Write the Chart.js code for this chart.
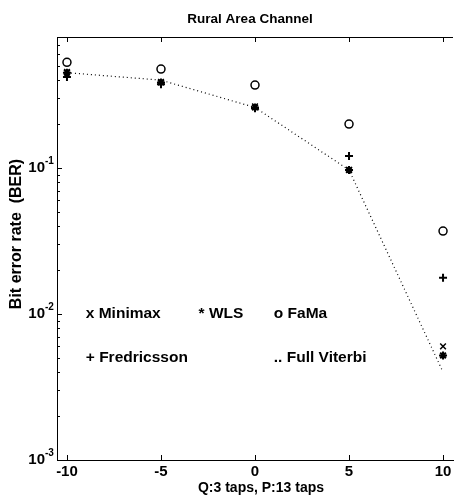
<!DOCTYPE html>
<html>
<head>
<meta charset="utf-8">
<script src="https://cdn.jsdelivr.net/npm/chart.js@4"></script>
<style>
  html, body { margin: 0; padding: 0; background: #fff; }
  canvas { display: block; }
</style>
</head>
<body>
<canvas id="berChart" width="459" height="498"></canvas>
<script>
  // SNR points and BER per equalizer
  const snr = [-10, -5, 0, 5, 10];
  const minimax = [0.455, 0.39, 0.265, 0.097, 0.006];
  const wls = [0.45, 0.385, 0.26, 0.097, 0.0052];
  const fama = [0.53, 0.476, 0.37, 0.2, 0.037];
  const fredricsson = [0.42, 0.375, 0.257, 0.121, 0.0177];
  const fullViterbi = [0.45, 0.40, 0.26, 0.097, 0.004];

  const xTicks = [-10, -5, 0, 5, 10];
  const yDecades = [0.001, 0.01, 0.1];
  const yDecadeExp = ['-3', '-2', '-1'];

  const legendLabels = ['x Minimax', '* WLS', 'o FaMa', '+ Fredricsson', '.. Full Viterbi'];
  const legendX = [-9, -3, 1, -9, 1];
  const legendY = [0.01, 0.01, 0.01, 0.005, 0.005];

  const FONT = "'Liberation Sans', Arial, sans-serif";

  function pts(values) {
    return snr.map((x, i) => ({ x: x, y: values[i] }));
  }

  function markerSet(label, values, style, width) {
    return {
      label: label,
      data: pts(values),
      showLine: false,
      pointStyle: style,
      pointRadius: 4,
      pointBorderColor: '#000',
      pointBackgroundColor: 'rgba(0,0,0,0)',
      pointBorderWidth: width
    };
  }

  const decorPlugin = {
    id: 'decor',
    afterDraw(chart) {
      const { ctx, chartArea: a, scales: { x, y } } = chart;
      ctx.save();
      ctx.strokeStyle = '#000';
      ctx.lineWidth = 1;
      const line = (x1, y1, x2, y2) => {
        ctx.beginPath(); ctx.moveTo(x1, y1); ctx.lineTo(x2, y2); ctx.stroke();
      };

      // top frame
      line(a.left, a.top + 0.5, a.right, a.top + 0.5);

      // inward x ticks, bottom and top
      xTicks.forEach(v => {
        const px = Math.round(x.getPixelForValue(v)) + 0.5;
        line(px, a.bottom, px, a.bottom - 5);
        line(px, a.top, px, a.top + 5);
      });

      // inward y ticks, major + minor
      yDecades.forEach(d => {
        for (let k = 1; k <= 9; k++) {
          const v = k * d;
          if (v > y.max) break;
          const py = Math.round(y.getPixelForValue(v)) + 0.5;
          line(a.left, py, a.left + (k === 1 ? 5 : 3), py);
        }
      });

      ctx.fillStyle = '#000';

      // y tick labels 10^n
      yDecades.forEach((d, i) => {
        const py = y.getPixelForValue(d);
        ctx.font = 'bold 15px ' + FONT;
        ctx.textAlign = 'right';
        ctx.textBaseline = 'middle';
        ctx.fillText('10', 45, py);
        ctx.font = 'bold 10px ' + FONT;
        ctx.textAlign = 'left';
        ctx.fillText(yDecadeExp[i], 45, py - 7);
      });

      // legend as text inside axes
      ctx.font = 'bold 15.5px ' + FONT;
      ctx.textAlign = 'left';
      ctx.textBaseline = 'middle';
      legendLabels.forEach((t, i) => {
        ctx.fillText(t, x.getPixelForValue(legendX[i]), y.getPixelForValue(legendY[i]));
      });

      // title and axis labels
      ctx.textAlign = 'center';
      ctx.font = 'bold 13.5px ' + FONT;
      ctx.fillText('Rural Area Channel', 250, 19);
      ctx.font = 'bold 14px ' + FONT;
      ctx.fillText('Q:3 taps, P:13 taps', 261, 488);
      ctx.save();
      ctx.translate(17, 234);
      ctx.rotate(-Math.PI / 2);
      ctx.font = 'bold 16px ' + FONT;
      ctx.fillText('Bit error rate  (BER)', 0, 0);
      ctx.restore();

      ctx.restore();
    }
  };

  new Chart(document.getElementById('berChart'), {
    type: 'line',
    data: {
      datasets: [
        {
          label: 'Full Viterbi',
          data: pts(fullViterbi),
          borderColor: '#000',
          borderWidth: 1.2,
          borderDash: [1, 3],
          pointRadius: 0,
          fill: false,
          tension: 0
        },
        markerSet('FaMa', fama, 'circle', 1.5),
        markerSet('Fredricsson', fredricsson, 'cross', 2),
        markerSet('Minimax', minimax, 'crossRot', 1.5),
        markerSet('WLS', wls, 'star', 2)
      ]
    },
    options: {
      responsive: false,
      animation: false,
      devicePixelRatio: 1,
      layout: { padding: { top: 37, right: 4, left: 0, bottom: 0 } },
      plugins: {
        legend: { display: false },
        tooltip: { enabled: false },
        title: { display: false }
      },
      scales: {
        x: {
          type: 'linear',
          min: -10.53,
          max: 10.53,
          grid: { display: false, drawTicks: false },
          border: { display: true, color: '#000', width: 1 },
          ticks: {
            color: '#000',
            padding: 3,
            font: { family: FONT, size: 15, weight: 'bold' }
          },
          afterBuildTicks: s => { s.ticks = xTicks.map(v => ({ value: v })); },
          afterFit: s => { s.height = 38; }
        },
        y: {
          type: 'logarithmic',
          min: 0.001,
          max: 0.79,
          grid: { display: false },
          border: { display: true, color: '#000', width: 1 },
          ticks: { display: false },
          afterFit: s => { s.width = 57; }
        }
      }
    },
    plugins: [decorPlugin]
  });
</script>
</body>
</html>
